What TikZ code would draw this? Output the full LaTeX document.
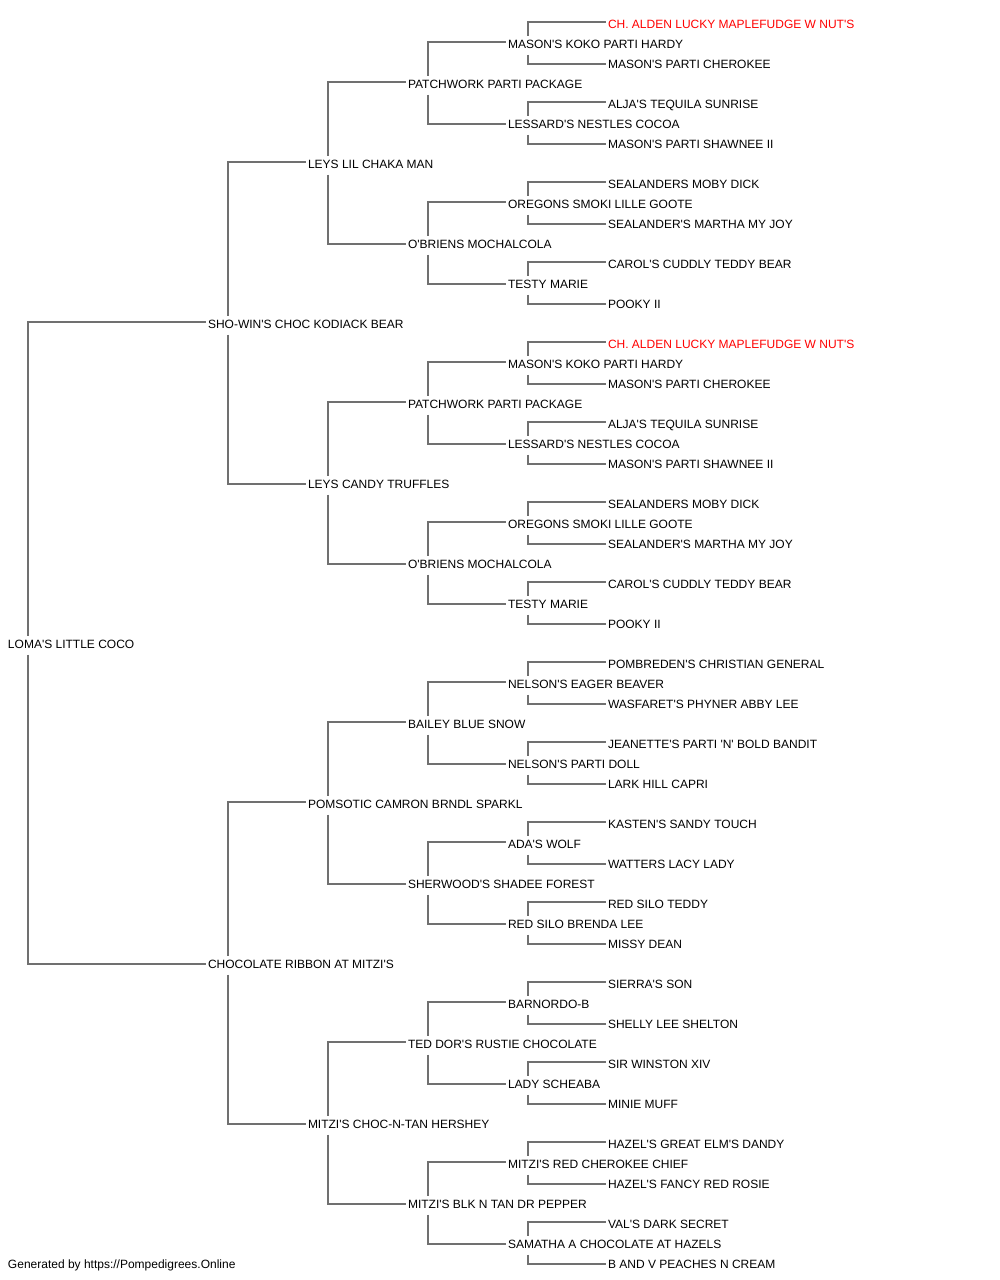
\documentclass[tikz,border=0pt]{standalone}
\usepackage{fontspec}
\setmainfont{Liberation Sans}[Ligatures=TeXOff]
\definecolor{linegray}{RGB}{112,112,112}
\definecolor{redname}{RGB}{255,0,0}
\begin{document}
\begin{tikzpicture}[x=1pt,y=1pt,
  pn/.style={anchor=base west,inner sep=0pt,outer sep=0pt,yshift=-5pt,font=\fontsize{12pt}{14pt}\selectfont},
  redpn/.style={pn,text=redname},
  conn/.style={draw=linegray,line width=1.4pt}]
\useasboundingbox (0,0) rectangle (1000,-1280);
% level 0
\node[pn] (n1) at (8,-643) {LOMA'S LITTLE COCO};
% level 1
\node[pn] (n2) at (208,-323) {SHO-WIN'S CHOC KODIACK BEAR};
\node[pn] (n3) at (208,-963) {CHOCOLATE RIBBON AT MITZI'S};
% level 2
\node[pn] (n4) at (308,-163) {LEYS LIL CHAKA MAN};
\node[pn] (n5) at (308,-483) {LEYS CANDY TRUFFLES};
\node[pn] (n6) at (308,-803) {POMSOTIC CAMRON BRNDL SPARKL};
\node[pn] (n7) at (308,-1123) {MITZI'S CHOC-N-TAN HERSHEY};
% level 3
\node[pn] (n8) at (408,-83) {PATCHWORK PARTI PACKAGE};
\node[pn] (n9) at (408,-243) {O'BRIENS MOCHALCOLA};
\node[pn] (n10) at (408,-403) {PATCHWORK PARTI PACKAGE};
\node[pn] (n11) at (408,-563) {O'BRIENS MOCHALCOLA};
\node[pn] (n12) at (408,-723) {BAILEY BLUE SNOW};
\node[pn] (n13) at (408,-883) {SHERWOOD'S SHADEE FOREST};
\node[pn] (n14) at (408,-1043) {TED DOR'S RUSTIE CHOCOLATE};
\node[pn] (n15) at (408,-1203) {MITZI'S BLK N TAN DR PEPPER};
% level 4
\node[pn] (n16) at (508,-43) {MASON'S KOKO PARTI HARDY};
\node[pn] (n17) at (508,-123) {LESSARD'S NESTLES COCOA};
\node[pn] (n18) at (508,-203) {OREGONS SMOKI LILLE GOOTE};
\node[pn] (n19) at (508,-283) {TESTY MARIE};
\node[pn] (n20) at (508,-363) {MASON'S KOKO PARTI HARDY};
\node[pn] (n21) at (508,-443) {LESSARD'S NESTLES COCOA};
\node[pn] (n22) at (508,-523) {OREGONS SMOKI LILLE GOOTE};
\node[pn] (n23) at (508,-603) {TESTY MARIE};
\node[pn] (n24) at (508,-683) {NELSON'S EAGER BEAVER};
\node[pn] (n25) at (508,-763) {NELSON'S PARTI DOLL};
\node[pn] (n26) at (508,-843) {ADA'S WOLF};
\node[pn] (n27) at (508,-923) {RED SILO BRENDA LEE};
\node[pn] (n28) at (508,-1003) {BARNORDO-B};
\node[pn] (n29) at (508,-1083) {LADY SCHEABA};
\node[pn] (n30) at (508,-1163) {MITZI'S RED CHEROKEE CHIEF};
\node[pn] (n31) at (508,-1243) {SAMATHA A CHOCOLATE AT HAZELS};
% level 5
\node[redpn] (n32) at (608,-23) {CH. ALDEN LUCKY MAPLEFUDGE W NUT'S};
\node[pn] (n33) at (608,-63) {MASON'S PARTI CHEROKEE};
\node[pn] (n34) at (608,-103) {ALJA'S TEQUILA SUNRISE};
\node[pn] (n35) at (608,-143) {MASON'S PARTI SHAWNEE II};
\node[pn] (n36) at (608,-183) {SEALANDERS MOBY DICK};
\node[pn] (n37) at (608,-223) {SEALANDER'S MARTHA MY JOY};
\node[pn] (n38) at (608,-263) {CAROL'S CUDDLY TEDDY BEAR};
\node[pn] (n39) at (608,-303) {POOKY II};
\node[redpn] (n40) at (608,-343) {CH. ALDEN LUCKY MAPLEFUDGE W NUT'S};
\node[pn] (n41) at (608,-383) {MASON'S PARTI CHEROKEE};
\node[pn] (n42) at (608,-423) {ALJA'S TEQUILA SUNRISE};
\node[pn] (n43) at (608,-463) {MASON'S PARTI SHAWNEE II};
\node[pn] (n44) at (608,-503) {SEALANDERS MOBY DICK};
\node[pn] (n45) at (608,-543) {SEALANDER'S MARTHA MY JOY};
\node[pn] (n46) at (608,-583) {CAROL'S CUDDLY TEDDY BEAR};
\node[pn] (n47) at (608,-623) {POOKY II};
\node[pn] (n48) at (608,-663) {POMBREDEN'S CHRISTIAN GENERAL};
\node[pn] (n49) at (608,-703) {WASFARET'S PHYNER ABBY LEE};
\node[pn] (n50) at (608,-743) {JEANETTE'S PARTI 'N' BOLD BANDIT};
\node[pn] (n51) at (608,-783) {LARK HILL CAPRI};
\node[pn] (n52) at (608,-823) {KASTEN'S SANDY TOUCH};
\node[pn] (n53) at (608,-863) {WATTERS LACY LADY};
\node[pn] (n54) at (608,-903) {RED SILO TEDDY};
\node[pn] (n55) at (608,-943) {MISSY DEAN};
\node[pn] (n56) at (608,-983) {SIERRA'S SON};
\node[pn] (n57) at (608,-1023) {SHELLY LEE SHELTON};
\node[pn] (n58) at (608,-1063) {SIR WINSTON XIV};
\node[pn] (n59) at (608,-1103) {MINIE MUFF};
\node[pn] (n60) at (608,-1143) {HAZEL'S GREAT ELM'S DANDY};
\node[pn] (n61) at (608,-1183) {HAZEL'S FANCY RED ROSIE};
\node[pn] (n62) at (608,-1223) {VAL'S DARK SECRET};
\node[pn] (n63) at (608,-1263) {B AND V PEACHES N CREAM};
% footer
\node[pn] (footer) at (8,-1263) {Generated by https://Pompedigrees.Online};
% connectors
\foreach \k in {2,...,63}{
  \pgfmathtruncatemacro{\p}{floor(\k/2)}
  \pgfmathtruncatemacro{\odd}{mod(\k,2)}
  \ifnum\odd=0
    \draw[conn] ([shift={(20pt,12.5pt)}]n\p.base west) |- ([shift={(-2pt,6pt)}]n\k.base west);
  \else
    \draw[conn] ([shift={(20pt,-6.5pt)}]n\p.base west) |- ([shift={(-2pt,4pt)}]n\k.base west);
  \fi
}
\end{tikzpicture}
\end{document}
